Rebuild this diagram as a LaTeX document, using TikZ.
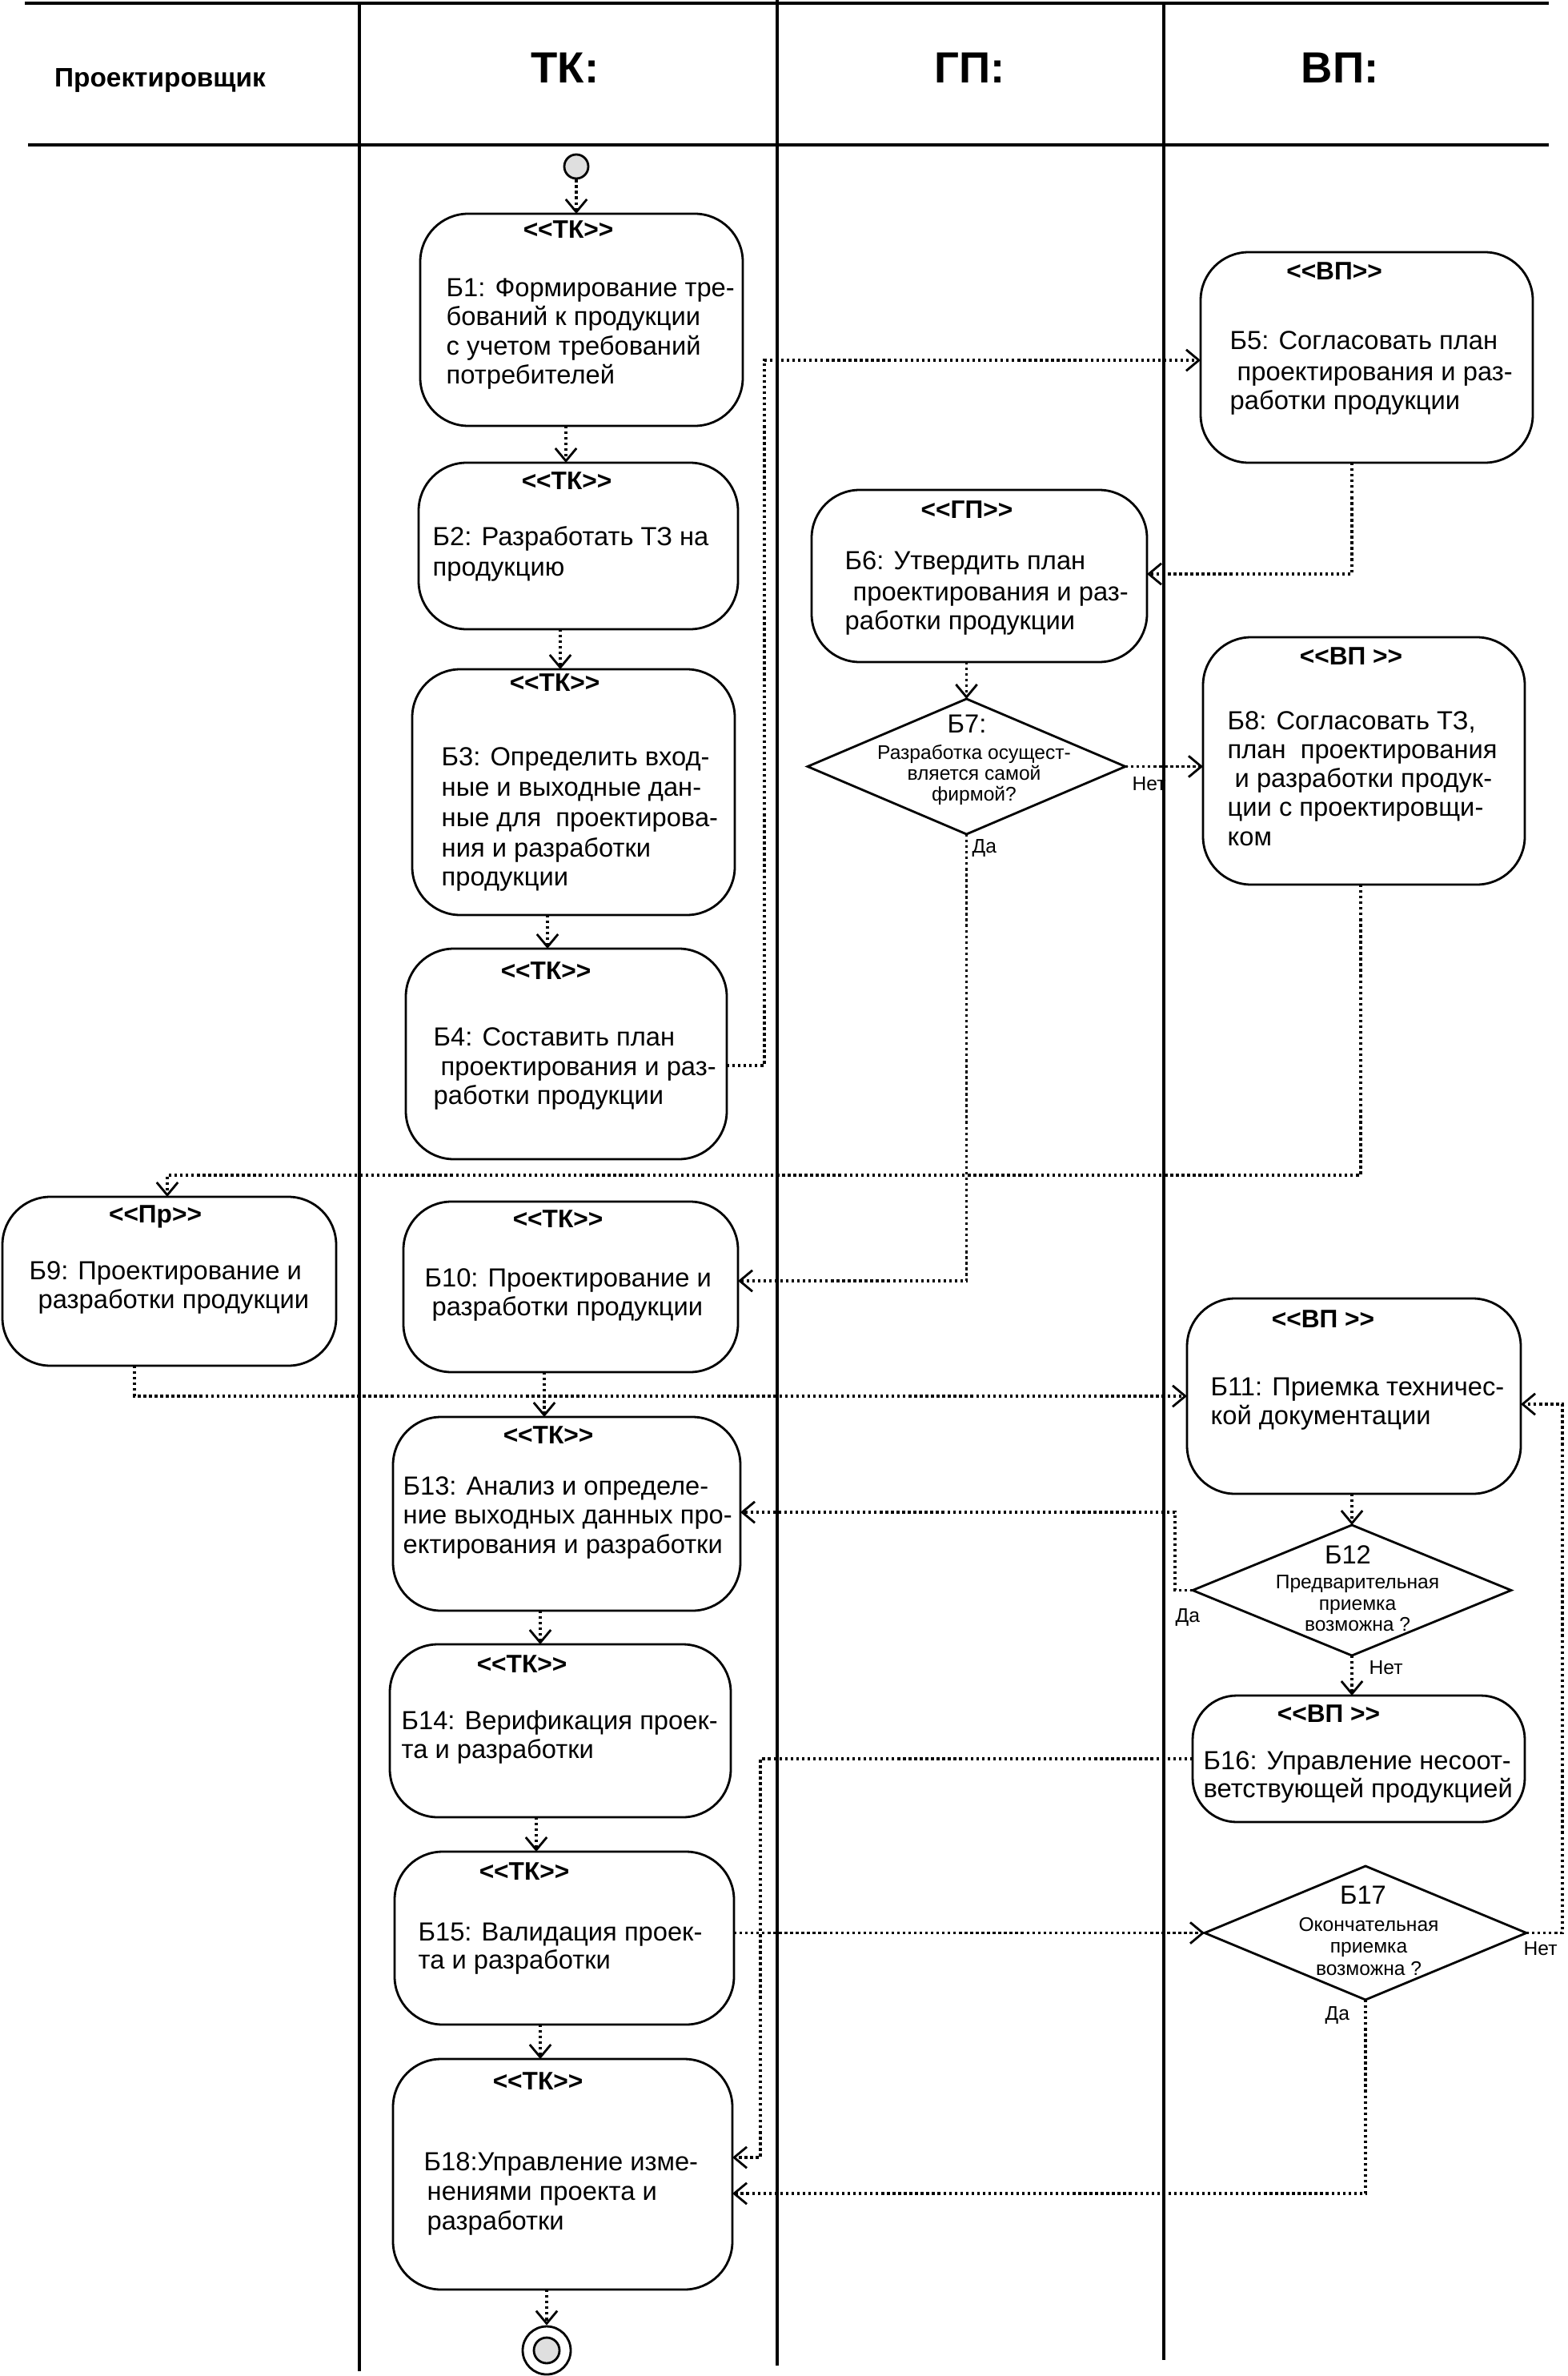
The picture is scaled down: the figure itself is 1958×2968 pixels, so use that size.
\documentclass[tikz,border=0pt]{standalone}
\usepackage{fontspec}
\setmainfont{Liberation Sans}[Ligatures=TeXOff]
\usetikzlibrary{arrows.meta,shapes.geometric}
\begin{document}
\begin{tikzpicture}[x=0.1mm,y=-0.1mm,
  box/.style={draw, line width=0.8pt, rounded corners=6mm, rectangle, inner sep=0pt, outer sep=0pt},
  dia/.style={draw, line width=0.8pt, diamond, inner sep=0pt, outer sep=0pt},
  flow/.style={line width=0.95pt, dash pattern=on 0.95pt off 1.05pt, -{Straight Barb[length=4.5pt,width=7.5pt,line width=0.8pt]}},
  st/.style={font=\fontsize{9}{10}\selectfont\bfseries, anchor=base, inner sep=0pt},
  tx/.style={font=\fontsize{9.3}{10.4}\selectfont, anchor=base west, inner sep=0pt},
  dnum/.style={font=\fontsize{9.3}{10.4}\selectfont, anchor=base, inner sep=0pt},
  sm/.style={font=\fontsize{7}{8}\selectfont, anchor=base, inner sep=0pt},
  lbl/.style={font=\fontsize{7}{8}\selectfont, anchor=base west, inner sep=0pt},
  lane/.style={line width=0.9pt},
  hdr/.style={line width=1.4pt},
  lanehead/.style={font=\fontsize{15.5}{18}\selectfont\bfseries, inner sep=0pt}
]
\useasboundingbox (0,0) rectangle (1958,2968);
% header and lanes
\draw[hdr] (31,4) -- (1935,4);
\draw[hdr] (35,181) -- (1935,181);
\draw[lane] (449,4) -- (449,2962);
\draw[lane] (971,0) -- (971,2955);
\draw[lane] (1454,4) -- (1454,2948);
\node[font=\fontsize{9.5}{11}\selectfont\bfseries, inner sep=0pt] (hpr) at (200,100) {Проектировщик};
\node[lanehead] (htk) at (706,85) {ТК:};
\node[lanehead] (hgp) at (1212,85) {ГП:};
\node[lanehead] (hvp) at (1674,85) {ВП:};

% start / end
\node[circle, draw, line width=0.8pt, fill=gray!25, minimum size=3mm, inner sep=0pt] (start) at (720,208) {};
\node[circle, draw, line width=0.8pt, minimum size=6mm, inner sep=0pt] (endc) at (683,2936) {};
\node[circle, draw, line width=0.8pt, fill=gray!25, minimum size=3.2mm, inner sep=0pt] (endin) at (683,2936) {};

% boxes
\node[box, minimum width=40.3mm, minimum height=26.5mm] (b1) at (726.5,399.5) {};
\node[box, minimum width=39.9mm, minimum height=20.8mm] (b2) at (722.5,682) {};
\node[box, minimum width=40.3mm, minimum height=30.7mm] (b3) at (716.5,989.5) {};
\node[box, minimum width=40.1mm, minimum height=26.3mm] (b4) at (707.5,1316.5) {};
\node[box, minimum width=41.5mm, minimum height=26.3mm] (b5) at (1707.5,446.5) {};
\node[box, minimum width=41.9mm, minimum height=21.5mm] (b6) at (1223.5,719.5) {};
\node[dia, minimum width=39.7mm, minimum height=16.9mm] (b7) at (1207.5,957.5) {};
\node[box, minimum width=40.2mm, minimum height=30.9mm] (b8) at (1704,950.5) {};
\node[box, minimum width=41.7mm, minimum height=21.1mm] (b9) at (211.5,1600.5) {};
\node[box, minimum width=41.8mm, minimum height=21.3mm] (b10) at (713,1607.5) {};
\node[box, minimum width=41.7mm, minimum height=24.4mm] (b11) at (1691.5,1744) {};
\node[dia, minimum width=39.8mm, minimum height=16.3mm] (b12) at (1689,1986.5) {};
\node[box, minimum width=43.4mm, minimum height=24.2mm] (b13) at (708,1891) {};
\node[box, minimum width=42.6mm, minimum height=21.6mm] (b14) at (700,2162) {};
\node[box, minimum width=42.4mm, minimum height=21.6mm] (b15) at (705,2421) {};
\node[box, rounded corners=5.5mm, minimum width=41.5mm, minimum height=15.8mm] (b16) at (1697.5,2197) {};
\node[dia, minimum width=40.2mm, minimum height=16.7mm] (b17) at (1706,2414.5) {};
\node[box, minimum width=42.4mm, minimum height=28.8mm] (b18) at (703,2716) {};

% stereotypes
\node[st] (s1) at (710,298) {<<ТК>>};
\node[st] (s2) at (708,611) {<<ТК>>};
\node[st] (s3) at (693,863) {<<ТК>>};
\node[st] (s4) at (682,1223) {<<ТК>>};
\node[st] (s5) at (1667,350) {<<ВП>>};
\node[st] (s6) at (1208,647) {<<ГП>>};
\node[st] (s8) at (1688,830) {<<ВП >>};
\node[st] (s9) at (194,1527) {<<Пр>>};
\node[st] (s10) at (697,1533) {<<ТК>>};
\node[st] (s11) at (1653,1658) {<<ВП >>};
\node[st] (s13) at (685,1803) {<<ТК>>};
\node[st] (s14) at (652,2089) {<<ТК>>};
\node[st] (s15) at (655,2348) {<<ТК>>};
\node[st] (s16) at (1660,2151) {<<ВП >>};
\node[st] (s18) at (672,2610) {<<ТК>>};

% box texts
\node[tx] (t1a) at (557,371) {Б1: Формирование тре-};
\node[tx] (t1b) at (557,407) {бований к продукции};
\node[tx] (t1c) at (557,444) {с учетом требований};
\node[tx] (t1d) at (557,480) {потребителей};

\node[tx] (t2a) at (540,681) {Б2: Разработать ТЗ на};
\node[tx] (t2b) at (540,719) {продукцию};

\node[tx] (t3a) at (551,956) {Б3: Определить вход-};
\node[tx] (t3b) at (551,994) {ные и выходные дан-};
\node[tx] (t3c) at (551,1032) {ные для\ \ проектирова-};
\node[tx] (t3d) at (551,1070) {ния и разработки};
\node[tx] (t3e) at (551,1106) {продукции};

\node[tx] (t4a) at (541,1306) {Б4: Составить план};
\node[tx] (t4b) at (550,1343) {проектирования и раз-};
\node[tx] (t4c) at (541,1379) {работки продукции};

\node[tx] (t5a) at (1536,437) {Б5: Согласовать план};
\node[tx] (t5b) at (1545,475) {проектирования и раз-};
\node[tx] (t5c) at (1536,512) {работки продукции};

\node[tx] (t6a) at (1055,711) {Б6: Утвердить план};
\node[tx] (t6b) at (1065,750) {проектирования и раз-};
\node[tx] (t6c) at (1055,786) {работки продукции};

\node[tx] (t8a) at (1533,911) {Б8: Согласовать ТЗ,};
\node[tx] (t8b) at (1533,947) {план\ \ проектирования};
\node[tx] (t8c) at (1542,983) {и разработки продук-};
\node[tx] (t8d) at (1533,1019) {ции с проектировщи-};
\node[tx] (t8e) at (1533,1056) {ком};

\node[tx] (t9a) at (36,1598) {Б9: Проектирование и};
\node[tx] (t9b) at (47,1634) {разработки продукции};

\node[tx] (t10a) at (530,1607) {Б10: Проектирование и};
\node[tx] (t10b) at (539,1643) {разработки продукции};

\node[tx] (t11a) at (1512,1743) {Б11: Приемка техничес-};
\node[tx] (t11b) at (1512,1779) {кой документации};

\node[tx] (t13a) at (503,1867) {Б13: Анализ и определе-};
\node[tx] (t13b) at (503,1903) {ние выходных данных про-};
\node[tx] (t13c) at (503,1940) {ектирования и разработки};

\node[tx] (t14a) at (501,2160) {Б14: Верификация проек-};
\node[tx] (t14b) at (501,2196) {та и разработки};

\node[tx] (t15a) at (522,2424) {Б15: Валидация проек-};
\node[tx] (t15b) at (522,2459) {та и разработки};

\node[tx] (t16a) at (1503,2210) {Б16: Управление несоот-};
\node[tx] (t16b) at (1503,2245) {ветствующей продукцией};

\node[tx] (t18a) at (529,2711) {Б18:Управление изме-};
\node[tx] (t18b) at (533,2748) {нениями проекта и};
\node[tx] (t18c) at (533,2785) {разработки};

% diamond texts
\node[dnum] (d7n) at (1208,915) {Б7:};
\node[sm] (d7a) at (1217,948) {Разработка осущест-};
\node[sm] (d7b) at (1217,974) {вляется самой};
\node[sm] (d7c) at (1217,1000) {фирмой?};

\node[dnum] (d12n) at (1684,1953) {Б12};
\node[sm] (d12a) at (1696,1984) {Предварительная};
\node[sm] (d12b) at (1696,2011) {приемка};
\node[sm] (d12c) at (1696,2037) {возможна ?};

\node[dnum] (d17n) at (1703,2378) {Б17};
\node[sm] (d17a) at (1710,2412) {Окончательная};
\node[sm] (d17b) at (1710,2439) {приемка};
\node[sm] (d17c) at (1710,2467) {возможна ?};

% branch labels
\node[lbl] (l7n) at (1414,987) {Нет};
\node[lbl] (l7y) at (1214,1065) {Да};
\node[lbl] (l12y) at (1468,2026) {Да};
\node[lbl] (l12n) at (1710,2091) {Нет};
\node[lbl] (l17n) at (1903,2442) {Нет};
\node[lbl] (l17y) at (1655,2523) {Да};

% connectors
\draw[flow] (start.south) -- (start.south |- b1.north);
\draw[flow] (b1.south -| 707,0) -- (b2.north -| 707,0);
\draw[flow] (b2.south -| 700,0) -- (b3.north -| 700,0);
\draw[flow] (b3.south -| 684,0) -- (b4.north -| 684,0);
\draw[flow] (b4.east |- 0,1331) -| (955,450) -- (b5.west |- 0,450);
\draw[flow] (b5.south -| 1689,0) |- (b6.east |- 0,717);
\draw[flow] (b6.south -| b7.north) -- (b7.north);
\draw[flow] (b7.east) -- (b8.west |- b7.east);
\draw[flow] (b7.south) |- (b10.east |- 0,1600);
\draw[flow] (b8.south -| 1700,0) |- (209,1468) -- (b9.north -| 209,0);
\draw[flow] (b9.south -| 168,0) |- (b11.west |- 0,1744);
\draw[flow] (b10.south -| 680,0) -- (b13.north -| 680,0);
\draw[flow] (b11.south -| b12.north) -- (b12.north);
\draw[flow] (b12.west) -| (1468,1889) -- (b13.east |- 0,1889);
\draw[flow] (b12.south) -- (b16.north -| b12.south);
\draw[flow] (b13.south -| 675,0) -- (b14.north -| 675,0);
\draw[flow] (b14.south -| 670,0) -- (b15.north -| 670,0);
\draw[flow] (b15.east |- b17.west) -- (b17.west);
\draw[flow] (b16.west) -| (950,2695) -- (b18.east |- 0,2695);
\draw[flow] (b17.east) -| (1952,1754) -- (b11.east |- 0,1754);
\draw[flow] (b17.south) |- (b18.east |- 0,2740);
\draw[flow] (b15.south -| 675,0) -- (b18.north -| 675,0);
\draw[flow] (b18.south -| endc.north) -- (endc.north);
\end{tikzpicture}
\end{document}
